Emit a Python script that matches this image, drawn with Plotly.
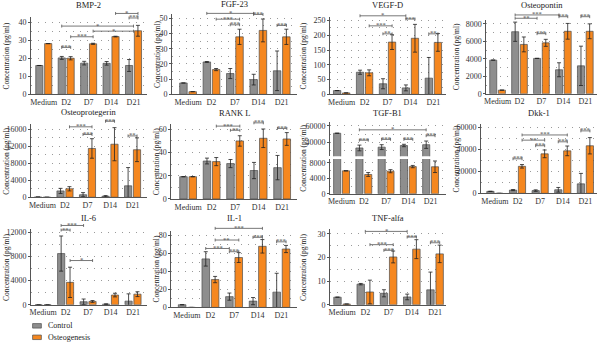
import plotly.graph_objects as go

categories = ["Medium", "D2", "D7", "D14", "D21"]

# ---------------- data (pg/ml) ----------------
bmp2_control = [16, 20.2, 17.3, 17.2, 16]
bmp2_control_err = [0, 0.8, 1, 1, 3.3]
bmp2_osteo = [28.1, 20, 28, 32, 35.2]
bmp2_osteo_err = [0, 0.9, 0.3, 0.2, 3]
bmp2_sig = [(1, 0, 1, 1, 26, "***"), (1, 1, 2, 1, 31.9, "***"), (2, 1, 4, 0.5, 35, "*"),
            (1, 0, 4, 0.5, 37.8, "*"), (4, 0, 4, 1, 42.3, "***"), (3, 1, 4, 1, 44.8, "*")]

fgf23_control = [7.5, 21.3, 13.7, 9.7, 15.5]
fgf23_control_err = [0, 0.3, 3.3, 3.5, 13]
fgf23_osteo = [1.8, 16.3, 37.8, 42, 37.8]
fgf23_osteo_err = [0, 0.7, 5, 7.5, 5]
fgf23_sig = [(1, 0, 3, 0, 53.2, "*"), (1, 1, 2, 1, 49.4, "***"), (2, 0, 2, 1, 45.7, "***"),
             (3, 0, 3, 1, 52.5, "***"), (4, 0, 4, 1, 45.3, "***")]

vegfd_control = [13, 75, 36, 22, 55]
vegfd_control_err = [0, 7, 17, 10, 70]
vegfd_osteo = [5, 73, 177, 190, 176]
vegfd_osteo_err = [0, 10, 25, 47, 30]
vegfd_sig = [(1, 0, 3, 0, 266, "*"), (1, 1, 2, 1, 232, "***"), (2, 0, 2, 1, 205, "**"),
             (3, 0, 3, 1, 255, "***"), (4, 0, 4, 1, 205, "**")]

opn_control = [3850, 7100, 4050, 2750, 3200]
opn_control_err = [0, 1100, 0, 800, 2250]
opn_osteo = [420, 5650, 5830, 7150, 7150]
opn_osteo_err = [0, 850, 400, 900, 850]
opn_sig = [(1, 0, 3, 0, 9020, "***"), (1, 0, 2, 0, 8640, "**"), (2, 0, 2, 1, 6880, "***"),
           (3, 0, 3, 1, 8820, "***"), (4, 0, 4, 1, 8820, "***")]

opg_control = [50, 1500, 600, 250, 2700]
opg_control_err = [0, 600, 500, 150, 4300]
opg_osteo = [0, 2000, 11500, 12500, 11200]
opg_osteo_err = [0, 500, 2300, 3900, 2800]
opg_sig = [(1, 1, 2, 1, 16600, "***"), (2, 0, 2, 1, 14800, "***"), (3, 0, 3, 1, 17900, "***"),
           (4, 0, 4, 1, 14460, "**")]

rankl_control = [19.2, 32.7, 30.5, 24.5, 27]
rankl_control_err = [0, 2.5, 3.5, 7, 10.5]
rankl_osteo = [19.2, 32.2, 50, 52.3, 51.7]
rankl_osteo_err = [0, 3.5, 4.5, 8, 5.5]
rankl_sig = [(1, 1, 2, 1, 62.8, "***"), (2, 0, 2, 1, 59.2, "**"), (3, 0, 3, 1, 65.6, "***"),
             (4, 0, 4, 1, 60.8, "***")]

tgfb1_control = [51000, 33000, 34000, 36000, 37000]
tgfb1_control_err = [0, 3500, 3000, 1500, 4500]
tgfb1_osteo = [5950, 5000, 5850, 7050, 7000]
tgfb1_osteo_err = [0, 500, 400, 300, 1500]
tgfb1_sig = [(1, 0, 4, 0, 55200, "*"), (1, 0, 1, 1, 42500, "***"), (2, 0, 2, 1, 43500, "***"),
             (3, 0, 3, 1, 43500, "***"), (4, 0, 4, 1, 48000, "***")]

dkk1_control = [1800, 2950, 2500, 3250, 8600]
dkk1_control_err = [0, 500, 700, 2100, 9500]
dkk1_osteo = [0, 24500, 35800, 38500, 43100]
dkk1_osteo_err = [0, 1600, 3500, 4400, 7400]
dkk1_sig = [(1, 1, 3, 1, 52900, "***"), (1, 1, 2, 1, 48200, "**"), (2, 0, 2, 1, 43150, "***"),
            (3, 0, 3, 1, 46700, "***"), (4, 0, 4, 1, 56600, "***"), (1, 0, 1, 1, 31300, "***")]

il6_control = [0, 8450, 500, 100, 600]
il6_control_err = [0, 2900, 450, 60, 1200]
il6_osteo = [0, 3700, 550, 1600, 1750]
il6_osteo_err = [0, 2500, 150, 300, 400]
il6_sig = [(1, 0, 2, 0, 13086, "***"), (1, 0, 1, 1, 12324, "**"), (1, 1, 2, 1, 7300, "*")]

il1_control = [3, 54, 12, 7, 17]
il1_control_err = [0, 8, 4, 4, 21]
il1_osteo = [0, 31, 55.5, 68, 65]
il1_osteo_err = [0, 3.5, 5.5, 7.5, 4]
il1_sig = [(1, 1, 3, 1, 88, "***"), (1, 1, 2, 1, 75, "**"), (1, 0, 2, 0, 65.6, "***"),
           (2, 0, 2, 1, 62, "***"), (3, 0, 3, 1, 78, "***"), (4, 0, 4, 1, 73, "***")]

tnf_control = [3.2, 8.7, 4.85, 3.3, 6.3]
tnf_control_err = [0, 0.3, 1.5, 1.2, 7.5]
tnf_osteo = [0.3, 5.4, 20.2, 23.5, 21.5]
tnf_osteo_err = [0, 5, 2.5, 4, 3.7]
tnf_sig = [(1, 0.5, 3, 0, 31, "*"), (1, 1, 2, 1, 25.4, "***"), (2, 0, 2, 1, 23, "***"),
           (3, 0, 3, 1, 28.6, "***"), (4, 0, 4, 1, 26.2, "***")]

series_names = ["Control", "Osteogenesis"]

# ---------------- styling / geometry ----------------
W, H = 600, 347
FONT = "Liberation Serif"
GRAY = "#8e8e8e"
ORANGE = "#f5871f"
EDGE = "#4d4d4d"
AXC = "#555555"
GRIDC = "#9a9a9a"
YTITLE = "Concentration (pg/ml)"


def fx(px):
    return px / W


def fy(py):
    return 1 - py / H


fig = go.Figure()
layout = {}
annotations = []
shapes = []


def axname(n, kind):
    return kind if n == 1 else f"{kind}{n}"


def add_axes(n, box, xr, yr, dtick, show_x=True):
    x0, x1, ytop, ybot = box
    layout[axname(n, "xaxis")] = dict(
        domain=[fx(x0), fx(x1)], range=xr, anchor=axname(n, "y"),
        tickvals=list(range(len(categories))), ticktext=categories,
        showticklabels=show_x, showline=show_x, linecolor=AXC, linewidth=1,
        ticks="", showgrid=False, zeroline=False,
        tickfont=dict(family=FONT, size=8, color="#333"))
    layout[axname(n, "yaxis")] = dict(
        domain=[fy(ybot), fy(ytop)], range=yr, anchor=axname(n, "x"),
        tick0=0, dtick=dtick, tickformat="d", showline=True, linecolor=AXC, linewidth=1,
        ticks="outside", ticklen=2, tickcolor=AXC, zeroline=False,
        showgrid=True, gridcolor=GRIDC, gridwidth=0.8, griddash="1px,6px",
        minor=dict(dtick=dtick / 2, tick0=0, showgrid=True, gridcolor=GRIDC,
                   gridwidth=0.8, griddash="1px,6px", ticks=""),
        tickfont=dict(family=FONT, size=8, color="#333"))


def add_bars(n, ctrl, ctrl_err, ost, ost_err):
    xs = list(range(len(categories)))
    for vals, errs, col, name in ((ctrl, ctrl_err, GRAY, series_names[0]),
                                  (ost, ost_err, ORANGE, series_names[1])):
        fig.add_trace(go.Bar(
            x=xs, y=vals, name=name, showlegend=False,
            marker=dict(color=col, line=dict(color=EDGE, width=0.7)),
            error_y=dict(type="data", array=errs, visible=True, color="#222",
                         thickness=0.8, width=2),
            xaxis=axname(n, "x"), yaxis=axname(n, "y")))


def add_brackets(n, sigs, yr, box):
    ytop, ybot = box[2], box[3]
    hpx = ybot - ytop
    tick = 1.5 / hpx
    yref = axname(n, "y") + " domain"
    for (c0, s0, c1, s1, yv, lab) in sigs:
        xa = c0 + (s0 - 0.5) * 0.4
        xb = c1 + (s1 - 0.5) * 0.4
        f = (yv - yr[0]) / (yr[1] - yr[0])
        path = (f"M{xa},{f - tick} L{xa},{f + tick} M{xa},{f} L{xb},{f} "
                f"M{xb},{f - tick} L{xb},{f + tick}")
        shapes.append(dict(type="path", path=path, xref=axname(n, "x"), yref=yref,
                           line=dict(color="#555", width=0.8)))
        annotations.append(dict(x=(xa + xb) / 2, y=f, xref=axname(n, "x"), yref=yref,
                                text=lab, showarrow=False, yanchor="bottom", yshift=-4.5,
                                font=dict(family=FONT, size=6.5, color="#444")))


def add_titles(title, box, title_y, ytitle_x, ymid=None):
    x0, x1, ytop, ybot = box
    annotations.append(dict(x=fx((x0 + x1) / 2), y=fy(title_y), xref="paper", yref="paper",
                            text=title, showarrow=False, xanchor="center", yanchor="middle",
                            font=dict(family=FONT, size=8.5, color="#222")))
    if ymid is None:
        ymid = (ytop + ybot) / 2
    annotations.append(dict(x=fx(ytitle_x), y=fy(ymid), xref="paper", yref="paper",
                            text=YTITLE, showarrow=False, textangle=-90,
                            xanchor="center", yanchor="middle",
                            font=dict(family=FONT, size=7.5, color="#222")))


panels = [
    ("BMP-2", bmp2_control, bmp2_control_err, bmp2_osteo, bmp2_osteo_err, bmp2_sig,
     (29.3, 145, 15, 94.3), [-0.56, 4.58], [0, 43], 10, 3.5, 5),
    ("FGF-23", fgf23_control, fgf23_control_err, fgf23_osteo, fgf23_osteo_err, fgf23_sig,
     (170.7, 295.7, 12.7, 94.3), [-0.68, 4.64], [0, 52.5], 10, 2.3, 156),
    ("VEGF-D", vegfd_control, vegfd_control_err, vegfd_osteo, vegfd_osteo_err, vegfd_sig,
     (329.3, 445, 15, 94.3), [-0.5, 4.53], [0, 263], 50, 3.5, 303),
    ("Osteopontin", opn_control, opn_control_err, opn_osteo, opn_osteo_err, opn_sig,
     (486, 596.7, 18.3, 93.7), [-0.51, 4.52], [0, 8450], 2000, 3, 456),
    ("Osteoprotegerin", opg_control, opg_control_err, opg_osteo, opg_osteo_err, opg_sig,
     (29.3, 145, 125, 199.3), [-0.5, 4.62], [0, 17150], 4000, 112.5, 5),
    ("RANK L", rankl_control, rankl_control_err, rankl_osteo, rankl_osteo_err, rankl_sig,
     (170, 295.7, 125, 201), [-0.71, 4.62], [0, 64.2], 20, 113.5, 155),
    ("Dkk-1", dkk1_control, dkk1_control_err, dkk1_osteo, dkk1_osteo_err, dkk1_sig,
     (480.7, 596.7, 125, 195.3), [-0.61, 4.5], [0, 62400], 20000, 113.5, 456),
    ("IL-6", il6_control, il6_control_err, il6_osteo, il6_osteo_err, il6_sig,
     (29.3, 145, 231.7, 309), [-0.53, 4.6], [0, 12500], 4000, 220, 5),
    ("IL-1", il1_control, il1_control_err, il1_osteo, il1_osteo_err, il1_sig,
     (170, 295.7, 233.3, 311.7), [-0.65, 4.65], [0, 85.5], 20, 220, 155),
    ("TNF-alfa", tnf_control, tnf_control_err, tnf_osteo, tnf_osteo_err, tnf_sig,
     (329.3, 445, 231.7, 309), [-0.51, 4.45], [0, 32], 10, 220, 303),
]

n = 0
for (title, c, ce, o, oe, sig, box, xr, yr, dt, ty, ytx) in panels:
    n += 1
    add_axes(n, box, xr, yr, dt)
    add_bars(n, c, ce, o, oe)
    add_brackets(n, sig, yr, box)
    add_titles(title, box, ty, ytx)

# TGF-B1 with a broken y axis (two stacked axes sharing categories)
tgf_xr = [-0.51, 4.67]
tgf_low_box = (329.3, 445, 160.3, 195.7)
tgf_up_box = (329.3, 445, 122.3, 157.3)
tgf_low_yr = [0, 9000]
tgf_up_yr = [23000, 65000]
n += 1
add_axes(n, tgf_low_box, tgf_xr, tgf_low_yr, 4000)
add_bars(n, tgfb1_control, tgfb1_control_err, tgfb1_osteo, tgfb1_osteo_err)
n += 1
add_axes(n, tgf_up_box, tgf_xr, tgf_up_yr, 20000, show_x=False)
add_bars(n, tgfb1_control, tgfb1_control_err, tgfb1_osteo, tgfb1_osteo_err)
add_brackets(n, tgfb1_sig, tgf_up_yr, tgf_up_box)
add_titles("TGF-B1", (329.3, 445, 122.3, 195.7), 113.5, 303)

# legend (swatches + labels)
for i, (name, col) in enumerate(zip(series_names, [GRAY, ORANGE])):
    yc = 330.5 + i * 11.7
    shapes.append(dict(type="rect", xref="paper", yref="paper",
                       x0=fx(30.7), x1=fx(39.5), y0=fy(yc + 2.3), y1=fy(yc - 2.3),
                       fillcolor=col, line=dict(color=EDGE, width=0.7)))
    annotations.append(dict(x=fx(44.5), y=fy(yc), xref="paper", yref="paper", text=name,
                            showarrow=False, xanchor="left", yanchor="middle",
                            font=dict(family=FONT, size=8, color="#222")))

fig.update_layout(
    width=W, height=H, autosize=False,
    margin=dict(l=0, r=0, t=0, b=0),
    paper_bgcolor="white", plot_bgcolor="white",
    barmode="group", bargap=0.21, bargroupgap=0.19,
    showlegend=False,
    annotations=annotations, shapes=shapes,
    font=dict(family=FONT, size=8),
    **layout)

fig.write_html("out.html")
